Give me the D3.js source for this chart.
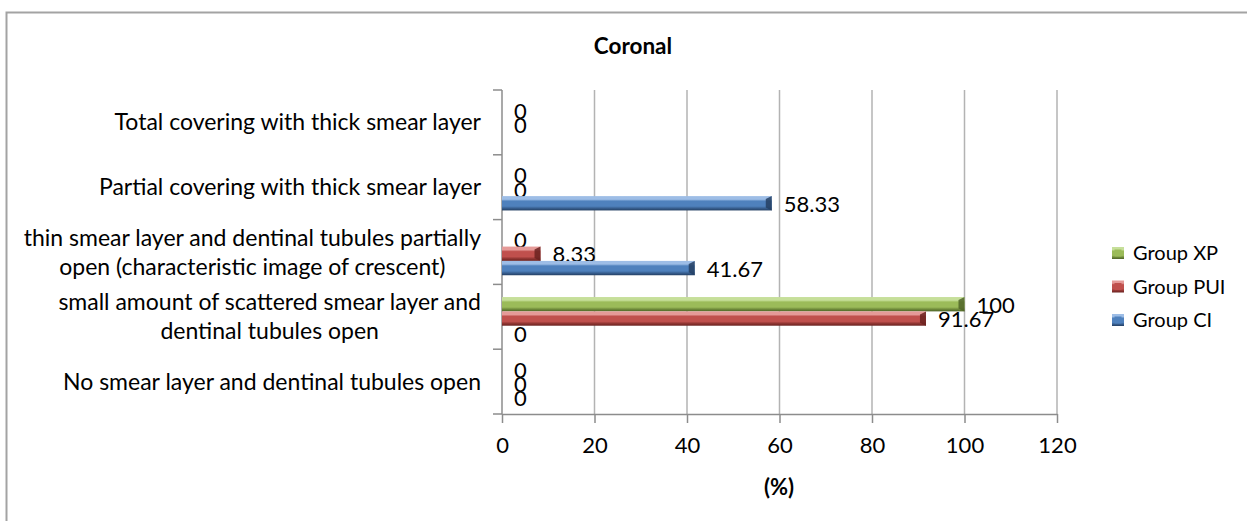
<!DOCTYPE html>
<html>
<head>
<meta charset="utf-8">
<script src="https://cdn.jsdelivr.net/npm/d3@7"></script>
<style>
  html, body { margin: 0; padding: 0; background: #fff; }
  svg { display: block; font-family: Lato, "Open Sans", sans-serif; }
</style>
</head>
<body>
<svg id="chart" width="1247" height="521"></svg>
<script>
// ---- data ----
const categories = [
  "Total covering with thick smear layer",
  "Partial covering with thick smear layer",
  "thin smear layer and dentinal tubules partially|open (characteristic image of crescent)",
  "small amount of scattered smear layer and|dentinal tubules open",
  "No smear layer and dentinal tubules open"
];
const seriesNames = ["Group XP", "Group PUI", "Group CI"];
const groupXP  = [0, 0, 0, 100, 0];
const groupPUI = [0, 0, 8.33, 91.67, 0];
const groupCI  = [null, 58.33, 41.67, 0, 0];
const xTicks = [0, 20, 40, 60, 80, 100, 120];
const titleText = "Coronal";
const xAxisTitle = "(%)";

const seriesValues = { "Group XP": groupXP, "Group PUI": groupPUI, "Group CI": groupCI };
const colors = {
  "Group XP":  { light: "#c6df9a", base: "#9bbb59", dark: "#6e8a3a", edge: "#4f6428" },
  "Group PUI": { light: "#e59a98", base: "#c0504d", dark: "#8e3431", edge: "#6a2220" },
  "Group CI":  { light: "#9dbde6", base: "#4f81bd", dark: "#375e8f", edge: "#243f63" }
};

const svg = d3.select("#chart");

// chart border
svg.append("rect")
  .attr("x", 6.5).attr("y", 12.5).attr("width", 1400).attr("height", 700)
  .attr("fill", "none").attr("stroke", "#a3a3a3").attr("stroke-width", 2);

// gradients
const defs = svg.append("defs");
seriesNames.forEach((s, i) => {
  const c = colors[s];
  const g = defs.append("linearGradient").attr("id", "grad" + i)
    .attr("x1", 0).attr("y1", 0).attr("x2", 0).attr("y2", 1);
  g.append("stop").attr("offset", "0%").attr("stop-color", c.light);
  g.append("stop").attr("offset", "22%").attr("stop-color", c.light);
  g.append("stop").attr("offset", "35%").attr("stop-color", c.base);
  g.append("stop").attr("offset", "70%").attr("stop-color", c.base);
  g.append("stop").attr("offset", "85%").attr("stop-color", c.dark);
  g.append("stop").attr("offset", "100%").attr("stop-color", c.edge);
});

// scales
const x = d3.scaleLinear().domain([0, 120]).range([502, 1057]);
const y = d3.scaleBand().domain(categories).range([90, 414]).paddingInner(0).paddingOuter(0);
const y1 = d3.scaleBand().domain(seriesNames).range([0, y.bandwidth()])
  .paddingInner(0).paddingOuter(0.76).align(0.58);

// gridlines
svg.append("g").selectAll("line").data(xTicks.filter(t => t > 0)).join("line")
  .attr("x1", d => x(d)).attr("x2", d => x(d))
  .attr("y1", 90).attr("y2", 414)
  .attr("stroke", "#b3b3b3").attr("stroke-width", 1.5);

// x axis
const xAxis = d3.axisBottom(x).tickValues(xTicks).tickSize(9).tickPadding(14).tickSizeOuter(0);
const gx = svg.append("g").attr("transform", "translate(0,414)").call(xAxis);
gx.select(".domain").attr("stroke", "#8c8c8c").attr("stroke-width", 1.5);
gx.selectAll(".tick line").attr("stroke", "#8c8c8c").attr("stroke-width", 1.5);
gx.selectAll(".tick text").attr("font-size", 22).attr("fill", "#000")
  .attr("font-family", "Lato, sans-serif");

// y axis line and boundary ticks
svg.append("line").attr("x1", 502).attr("x2", 502).attr("y1", 90).attr("y2", 414)
  .attr("stroke", "#8c8c8c").attr("stroke-width", 1.5);
const boundaries = categories.map(c => y(c)).concat([y.range()[1]]);
svg.append("g").selectAll("line").data(boundaries).join("line")
  .attr("x1", 493).attr("x2", 502).attr("y1", d => d).attr("y2", d => d)
  .attr("stroke", "#8c8c8c").attr("stroke-width", 1.5);

// category labels
const catG = svg.append("g").attr("font-size", 23).attr("fill", "#000");
categories.forEach(c => {
  const lines = c.split("|");
  const cy = y(c) + y.bandwidth() / 2;
  const t = catG.append("text").attr("text-anchor", "middle");
  const lh = 29;
  lines.forEach((ln, i) => {
    t.append("tspan").text(ln)
      .attr("y", cy + (i - (lines.length - 1) / 2) * lh)
      .attr("dy", "0.35em");
  });
  let maxW = 0;
  t.selectAll("tspan").each(function () { maxW = Math.max(maxW, this.getComputedTextLength()); });
  t.selectAll("tspan").attr("x", 481 - maxW / 2);
});

// bars
seriesNames.forEach((s, si) => {
  const vals = seriesValues[s];
  const data = categories.map((c, i) => ({ c, v: vals[i] }));
  const g = svg.append("g");
  const h = y1.bandwidth();
  const bars = data.filter(d => d.v !== null && d.v > 0);
  g.selectAll("rect").data(bars).join("rect")
    .attr("x", x(0)).attr("y", d => y(d.c) + y1(s))
    .attr("width", d => x(d.v) - x(0)).attr("height", h)
    .attr("fill", `url(#grad${si})`);
  // bevel end cap
  g.selectAll("path").data(bars).join("path")
    .attr("d", d => {
      const x1 = x(d.v), y0 = y(d.c) + y1(s);
      return `M${x1 - 6},${y0 + 3} L${x1},${y0} L${x1},${y0 + h} L${x1 - 6},${y0 + h - 3} Z`;
    })
    .attr("fill", colors[s].edge).attr("opacity", 0.85);
  // value labels
  g.selectAll("text").data(data.filter(d => d.v !== null)).join("text")
    .attr("x", d => x(d.v) + 12)
    .attr("y", d => y(d.c) + y1(s) + h / 2 + 1)
    .attr("dy", "0.35em")
    .attr("font-size", 22).attr("fill", "#000")
    .text(d => d.v);
});

// legend
const legend = svg.append("g");
seriesNames.forEach((s, i) => {
  const cy = 253 + i * 33.5;
  legend.append("rect").attr("x", 1112).attr("y", cy - 6).attr("width", 12).attr("height", 12)
    .attr("fill", `url(#grad${i})`);
  legend.append("rect").attr("x", 1114.5).attr("y", cy - 3.5).attr("width", 7).attr("height", 7)
    .attr("fill", colors[s].base);
  legend.append("text").attr("x", 1133).attr("y", cy).attr("dy", "0.35em")
    .attr("font-size", 20).attr("fill", "#000").text(s);
});

// titles
svg.append("text").attr("x", 633).attr("y", 46).attr("dy", "0.35em")
  .attr("text-anchor", "middle").attr("font-size", 22.5).attr("font-weight", "bold")
  .text(titleText);
svg.append("text").attr("x", 779).attr("y", 487).attr("dy", "0.35em")
  .attr("text-anchor", "middle").attr("font-size", 22).attr("font-weight", "bold")
  .text(xAxisTitle);
</script>
</body>
</html>
